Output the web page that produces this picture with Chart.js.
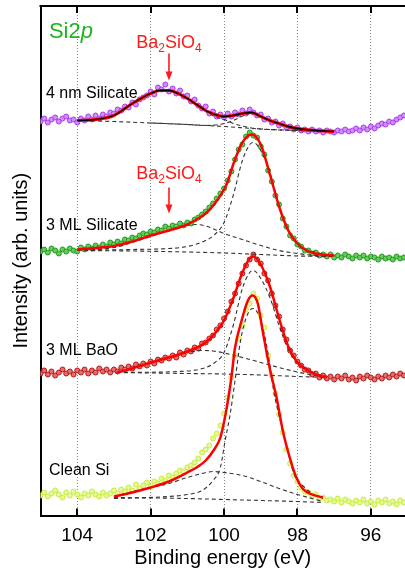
<!DOCTYPE html>
<html><head><meta charset="utf-8">
<script src="https://cdn.jsdelivr.net/npm/chart.js@4.4.1/dist/chart.umd.min.js"></script>
<style>html,body{margin:0;padding:0;background:#fff;overflow:hidden}#wrap{width:405px;height:571px}</style>
</head><body><div id="wrap"><canvas id="c" width="405" height="571"></canvas></div>
<script>
// acquisition grid (binding energy, eV) : 105.0 down to 95.1
const energyStart = 105.0, energyStep = 0.1, energyCount = 100;
const xTicks = [104, 102, 100, 98, 96];

// measured spectra (arb. units, already vertically offset)
const silicate4nm = [394,397,393,396,398,394,397,399,395,396,
 393,397,395,399,396,400,397,401,399,403,
 402,406,405,409,408,413,411,416,418,420,
 424,421,428,426,431,424,427,422,425,419,
 420,414,416,410,407,409,402,404,399,401,
 398,402,399,403,401,405,402,406,403,400,
 401,396,397,393,394,390,392,388,389,386,
 388,385,386,384,386,384,385,383,385,384,
 383,385,384,386,384,385,387,385,388,386,
 389,387,390,392,391,394,393,396,398,400];
const silicate3ml = [264,266,263,267,265,262,266,264,267,265,
 264,268,266,269,267,270,268,271,269,273,
 271,274,272,276,275,278,277,280,282,281,
 284,283,286,285,289,287,290,289,292,290,
 293,292,296,298,301,304,308,312,317,322,
 327,335,344,356,366,371,379,383,380,378,
 369,361,345,334,320,311,297,289,280,277,
 271,269,265,265,262,263,260,261,259,261,
 258,260,258,261,259,257,260,258,260,257,
 259,258,256,259,257,258,256,259,257,258];
const bao3ml = [142,145,141,144,140,143,146,142,144,141,
 145,143,146,142,145,143,147,144,146,143,
 146,144,148,146,149,147,151,149,152,150,
 154,152,156,155,158,157,160,158,163,161,
 165,164,168,167,172,173,177,180,186,190,
 197,204,214,222,232,242,250,256,261,256,
 252,242,235,222,210,199,186,176,165,160,
 154,150,146,145,141,142,138,140,137,139,
 136,139,137,140,136,138,135,139,137,140,
 138,136,139,137,140,138,141,139,142,140];
const cleanSi = [20,23,19,22,25,21,18,23,20,24,
 21,18,22,20,24,21,19,23,20,22,
 25,22,26,24,28,25,31,27,30,33,
 29,34,32,37,35,40,38,42,45,44,
 48,50,53,57,63,66,70,77,82,90,
 102,118,138,160,177,190,206,212,222,217,
 200,188,160,140,122,101,83,66,52,40,
 34,28,24,23,20,21,17,18,15,16,
 14,17,13,16,14,12,15,13,16,12,
 14,11,15,13,16,12,14,11,15,13];

// fitted envelopes [eV, intensity]
const fit4nm = [[104,395],[103.5,396],[103,400],[102.5,412],[102,422],[101.75,425],[101.5,425],[101.25,422],[101,417],[100.75,411],[100.5,405],[100.25,401],[100,399],[99.75,400],[99.5,402],[99.25,403],[99,399],[98.75,395],[98.5,392],[98.25,389],[98,387],[97.5,385],[97,384]];
const bg4nm = [[104,395],[103,394],[102,392.5],[101,391],[100,389],[99,386.5],[98,385],[97,384]];
const silPeak4nm = [[104,395],[103.5,396],[103,400],[102.5,412],[102,422],[101.75,425],[101.5,425],[101.25,422],[101,417],[100.75,410.5],[100.5,404],[100.25,399],[100,396],[99.75,392],[99.5,389.5],[99.25,387.5],[99,386.5],[98.5,385.5],[98,385],[97,384]];
const siPeak4nm = [[102,392.5],[101.5,391.8],[101,391],[100.5,390],[100.25,390.5],[100,392],[99.75,395],[99.5,399.5],[99.25,402],[99,399],[98.75,395],[98.5,391],[98.25,388],[98,386],[97.5,384.5],[97,384]];

const fit3ml = [[104,266],[103.5,267.5],[103,269.5],[102.5,274],[102,280],[101.5,285],[101,291],[100.75,296],[100.5,302],[100.25,312],[100,326],[99.9,334],[99.75,351],[99.5,373],[99.25,381],[99,371],[98.75,341],[98.5,309],[98.25,285],[98,272],[97.75,265],[97.5,262],[97.25,260.5],[97,260]];
const bg3ml = [[104,265],[102.5,264.5],[101,263.5],[100,262.5],[99,261],[98,259.5],[97,259]];
const silPeak3ml = [[104,265],[103,268],[102.5,273],[102,279],[101.5,285],[101,290],[100.75,291],[100.5,289.5],[100.25,286],[100,282],[99.5,276],[99,270],[98.5,265],[98,262],[97.5,260],[97,259]];
const siPeak3ml = [[104,265],[102.5,266],[101.5,267],[101,269],[100.5,275],[100.25,281],[100,293],[99.75,320],[99.5,355],[99.3,371],[99.2,373],[99,365],[98.75,343],[98.5,310],[98.25,285],[98,271],[97.5,263],[97,260]];

const fitBaO = [[102.92,143],[102.5,147],[102,153],[101.5,158],[101,164],[100.5,173],[100.25,182],[100,195],[99.75,217],[99.5,243],[99.3,257],[99.2,259],[99,251],[98.75,229],[98.5,197],[98.25,169],[98,153],[97.75,146],[97.5,141],[97.2,138]];
const bgBaO = [[102.92,143],[101,142],[100,141.5],[99,140.5],[98,139],[97.2,138]];
const silPeakBaO = [[102.92,143],[102.5,147],[102,153],[101.5,158],[101,163],[100.6,165],[100.3,164.5],[100,162.5],[99.5,158],[99,153],[98.5,148],[98,143.5],[97.5,140],[97.2,138.5]];
const siPeakBaO = [[102.92,143],[101,144.5],[100.5,148],[100.25,153],[100,163],[99.75,190],[99.5,227],[99.3,243],[99.2,245],[99,237],[98.75,218],[98.5,190],[98.25,166],[98,153],[97.5,142],[97.2,139]];

const fitClean = [[103,19],[102.5,23],[102,28],[101.5,34],[101,43],[100.75,48],[100.5,55],[100.25,67],[100.1,78],[99.95,103],[99.8,138],[99.7,168],[99.52,195],[99.35,215],[99.22,220],[99.08,212],[98.95,185],[98.76,148],[98.57,118],[98.4,85],[98.21,58],[98.03,38],[97.86,27],[97.67,22],[97.3,18]];
const bgClean = [[103,18],[101,17],[100,16],[99,15],[98,14],[97.3,13]];
const broadClean = [[103,19],[102.5,24],[102,28],[101.5,32],[101,38],[100.6,42],[100.3,44],[100,43],[99.5,40],[99,34],[98.5,27],[98,21],[97.5,16],[97.3,14]];
const siPeakClean = [[103,17],[101.5,19],[101,21],[100.6,25],[100.3,35],[100.1,48],[99.97,75],[99.83,102],[99.7,135],[99.55,175],[99.35,202],[99.2,207],[99,195],[98.8,162],[98.65,125],[98.45,92],[98.25,62],[98.1,42],[97.8,28],[97.6,22],[97.3,17]];

const spectrumLabels = ['4 nm Silicate', '3 ML Silicate', '3 ML BaO', 'Clean Si'];
const labelAnchors = [[104.85,418],[104.85,286],[104.85,161],[104.77,41]];
const arrows = [{e:101.5, text:468, from:462, to:435},{e:101.5, text:337, from:328, to:302}];

const energies = Array.from({length: energyCount}, (_, i) => +(energyStart - i*energyStep).toFixed(2));
const toPts = arr => arr.map((v,i)=>({x:energies[i], y:v}));
const pairPts = arr => arr.map(p=>({x:p[0], y:p[1]}));

function scatterSet(vals, border, fill){
  return {type:'scatter', data:toPts(vals), showLine:false, pointRadius:2.5, pointBorderWidth:1,
    pointHoverRadius:0, pointBorderColor:border, pointBackgroundColor:fill, order:10};
}
function lineSet(arr, color, width, dash, order){
  return {type:'line', data:pairPts(arr), showLine:true, borderColor:color, borderWidth:width,
    borderDash:dash||[], pointRadius:0, pointHoverRadius:0, fill:false, cubicInterpolationMode:'monotone', order:order};
}
const dashC = '#333333';
const datasets = [
  scatterSet(silicate4nm, 'rgb(165,60,235)', 'rgb(210,140,255)'),
  scatterSet(silicate3ml, 'rgb(35,150,35)', 'rgb(100,205,90)'),
  scatterSet(bao3ml, 'rgb(180,25,25)', 'rgb(228,110,110)'),
  scatterSet(cleanSi, 'rgb(200,235,60)', 'rgb(228,250,150)'),
  lineSet(bg4nm, dashC, 1.1, [4,3], 5), lineSet(silPeak4nm, dashC, 1.1, [4,3], 5), lineSet(siPeak4nm, dashC, 1.1, [4,3], 5),
  lineSet(bg3ml, dashC, 1.1, [4,3], 5), lineSet(silPeak3ml, dashC, 1.1, [4,3], 5), lineSet(siPeak3ml, dashC, 1.1, [4,3], 5),
  lineSet(bgBaO, dashC, 1.1, [4,3], 5), lineSet(silPeakBaO, dashC, 1.1, [4,3], 5), lineSet(siPeakBaO, dashC, 1.1, [4,3], 5),
  lineSet(bgClean, dashC, 1.1, [4,3], 5), lineSet(broadClean, dashC, 1.1, [4,3], 5), lineSet(siPeakClean, dashC, 1.1, [4,3], 5),
  lineSet(fit4nm, '#ff0000', 3, null, 3), lineSet(fit4nm, '#000000', 1.3, null, 2),
  lineSet(fit3ml, '#ff0000', 2.5, null, 3),
  lineSet(fitBaO, '#ff0000', 2.5, null, 3),
  lineSet(fitClean, '#ff0000', 2.5, null, 3)
];

const FONT = "'Liberation Sans', Arial, Helvetica, sans-serif";
const deco = {
  id:'deco',
  afterDraw(chart){
    const {ctx, chartArea:a, scales:{x, y}} = chart;
    ctx.save();
    ctx.strokeStyle = '#000'; ctx.lineWidth = 2;
    ctx.beginPath(); ctx.moveTo(a.left-1, a.top); ctx.lineTo(a.right, a.top); ctx.stroke();
    xTicks.forEach(v=>{
      const px = Math.round(x.getPixelForValue(v));
      ctx.beginPath();
      ctx.moveTo(px, a.bottom); ctx.lineTo(px, a.bottom-7);
      ctx.moveTo(px, a.top); ctx.lineTo(px, a.top+7);
      ctx.stroke();
    });
    ctx.fillStyle = '#000'; ctx.font = '16px ' + FONT; ctx.textBaseline = 'alphabetic'; ctx.textAlign = 'left';
    spectrumLabels.forEach((t,i)=>{
      ctx.fillText(t, x.getPixelForValue(labelAnchors[i][0]), y.getPixelForValue(labelAnchors[i][1]));
    });
    ctx.fillStyle = 'rgb(30,180,30)';
    ctx.font = '22px ' + FONT;
    let sx = x.getPixelForValue(104.77), sy = y.getPixelForValue(478);
    ctx.fillText('Si2', sx, sy);
    const w1 = ctx.measureText('Si2').width;
    ctx.font = 'italic 22px ' + FONT;
    ctx.fillText('p', sx + w1, sy);
    arrows.forEach(an=>{
      const cx = x.getPixelForValue(an.e);
      const parts = [['Ba',18,0],['2',12,4],['SiO',18,0],['4',12,4]];
      let tw = 0;
      parts.forEach(p=>{ ctx.font = p[1]+'px '+FONT; tw += ctx.measureText(p[0]).width; });
      let px = cx - tw/2; const by = y.getPixelForValue(an.text);
      ctx.fillStyle = '#ff1a1a';
      parts.forEach(p=>{ ctx.font = p[1]+'px '+FONT; ctx.fillText(p[0], px, by + p[2]); px += ctx.measureText(p[0]).width; });
      const y1 = y.getPixelForValue(an.from), y2 = y.getPixelForValue(an.to);
      ctx.strokeStyle = '#ff1a1a'; ctx.lineWidth = 1.6;
      ctx.beginPath(); ctx.moveTo(cx, y1); ctx.lineTo(cx, y2 - 6); ctx.stroke();
      ctx.beginPath(); ctx.moveTo(cx, y2); ctx.lineTo(cx - 3.5, y2 - 9); ctx.lineTo(cx + 3.5, y2 - 9); ctx.closePath(); ctx.fill();
    });
    ctx.restore();
  }
};

new Chart(document.getElementById('c'), {
  type:'scatter',
  data:{datasets},
  plugins:[deco],
  options:{
    responsive:false, devicePixelRatio:1, animation:false,
    layout:{autoPadding:false, padding:{top:6, right:0, left:0, bottom:0}},
    plugins:{legend:{display:false}, tooltip:{enabled:false}},
    scales:{
      x:{type:'linear', reverse:true, min:95.07, max:105,
        afterBuildTicks:s=>{ s.ticks = xTicks.map(v=>({value:v})); },
        afterFit:s=>{ s.height = 55.5; s.paddingLeft = 0; s.paddingRight = 0; },
        ticks:{font:{size:19, family:FONT}, color:'#000', padding:9, maxRotation:0, autoSkip:false},
        grid:{color:'#8a8a8a', lineWidth:1, drawTicks:false},
        border:{display:true, color:'#000', width:2, dash:[1,2]},
        title:{display:true, text:'Binding energy (eV)', color:'#000', font:{size:20, family:FONT}, padding:{top:0, bottom:1}}
      },
      y:{type:'linear', min:0, max:509.5,
        afterFit:s=>{ s.width = 40.5; s.paddingTop = 0; s.paddingBottom = 0; },
        ticks:{display:false}, grid:{display:false},
        border:{display:true, color:'#000', width:2},
        title:{display:true, text:'Intensity (arb. units)', color:'#000', font:{size:20, family:FONT}, padding:{top:9, bottom:0}}
      }
    }
  }
});
</script></body></html>
